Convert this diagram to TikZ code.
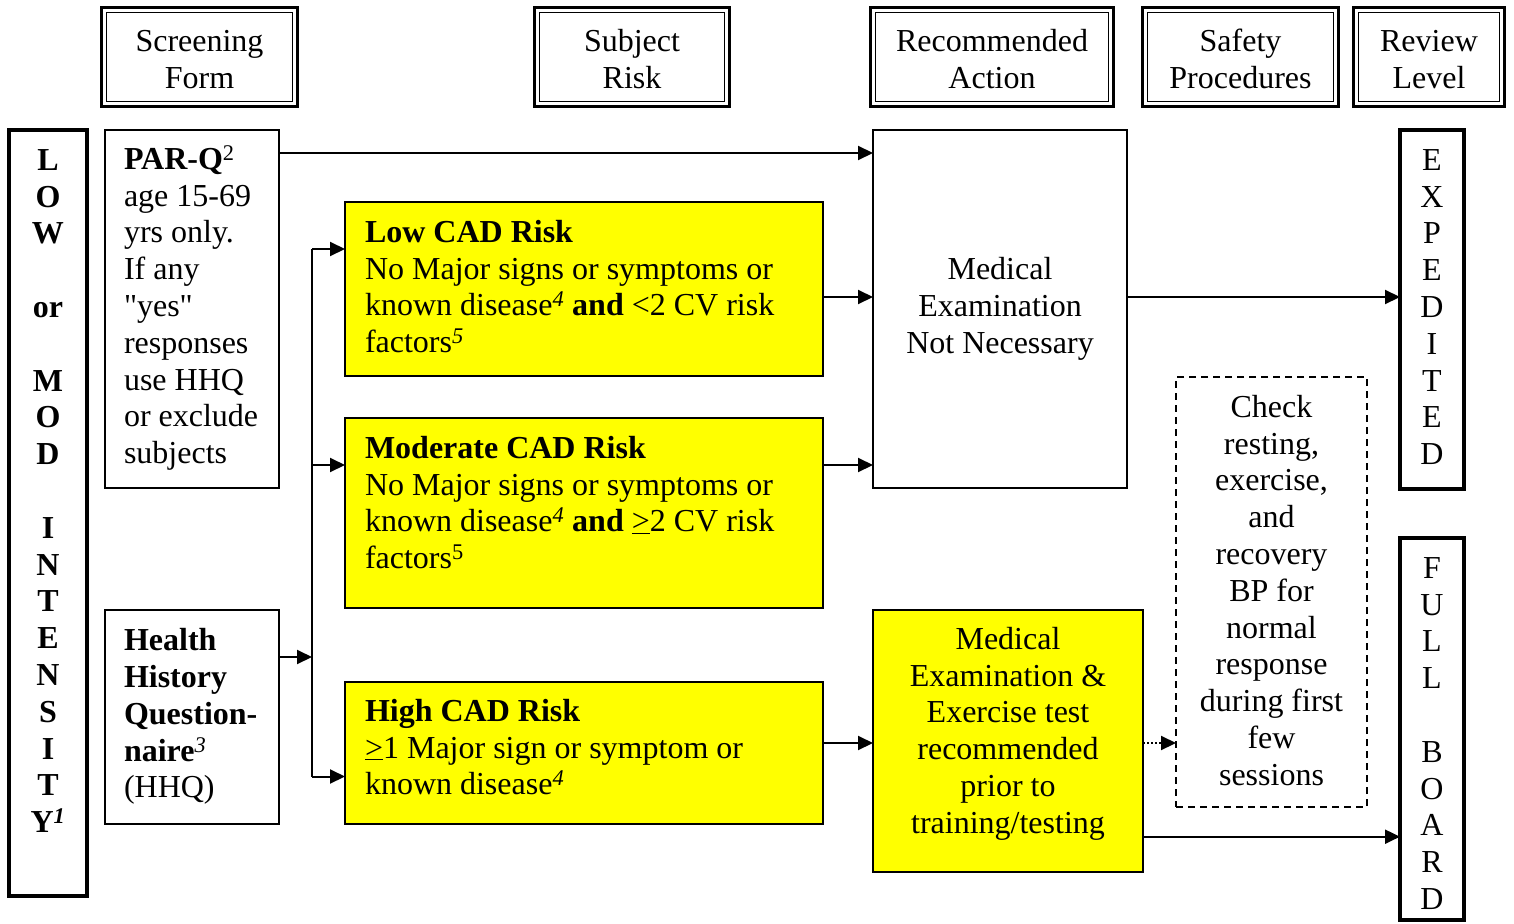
\documentclass[tikz,border=0pt]{standalone}
\usepackage{fontspec}
\setmainfont{Liberation Serif}
\newfontfamily\qfont{Liberation Serif}[Ligatures=TeXOff]
\usetikzlibrary{arrows.meta,calc}
\newcommand{\bt}[4]{\parbox[c][#1pt][t]{#2pt}{\vspace*{#3pt}#4}}
\newcommand{\sui}[1]{\textsuperscript{\textit{#1}}}
\newcommand{\geu}{\underline{>}}
\definecolor{ylw}{RGB}{255,255,0}
\begin{document}
\begin{tikzpicture}[x=1pt,y=-1pt,
  every node/.style={inner sep=0pt, outer sep=0pt, anchor=north west},
  font=\fontsize{32}{36.8}\selectfont,
  hdr/.style={draw, line width=3.2pt, minimum height=99,
    path picture={\draw[line width=1.2pt] ([shift={(5,5)}]path picture bounding box.north west) rectangle ([shift={(-5,-5)}]path picture bounding box.south east);}},
  thinbox/.style={draw, line width=2pt},
  ybox/.style={draw, line width=2.5pt, fill=ylw},
  heavybox/.style={draw, line width=4pt},
  dbox/.style={draw, line width=1.6pt, dash pattern=on 7pt off 5pt, align=center},
  conn/.style={line width=2pt, -{Triangle[length=15pt,width=14pt]}}
]
\useasboundingbox (0,0) rectangle (1514,923);
\fill[white] (0,0) rectangle (1514,923);

% headers
\node[hdr, minimum width=195.5] (hscr) at (101.75,7.5) {\bt{99}{190}{18.5}{\centering\strut Screening\\Form}};
\node[hdr, minimum width=194.5] (hsub) at (534.75,7.5) {\bt{99}{190}{18.5}{\centering\strut Subject\\Risk}};
\node[hdr, minimum width=242.5] (hrec) at (870.75,7.5) {\bt{99}{238}{18.5}{\centering\strut Recommended\\Action}};
\node[hdr, minimum width=195.5] (hsaf) at (1142.75,7.5) {\bt{99}{190}{18.5}{\centering\strut Safety\\Procedures}};
\node[hdr, minimum width=150.5] (hrev) at (1353.75,7.5) {\bt{99}{146}{18.5}{\centering\strut Review\\Level}};

% left intensity column
\node[heavybox, minimum width=78, minimum height=766] (inten) at (9,130)
  {\bt{766}{78}{14.5}{\centering\bfseries\strut L\\O\\W\\[36.8pt]or\\[36.8pt]M\\O\\D\\[36.8pt]I\\N\\T\\E\\N\\S\\I\\T\\Y\sui{1}}};

% screening forms
\node[thinbox, minimum width=174, minimum height=358] (parq) at (105,130)
  {\bt{358}{136}{13.5}{\raggedright\strut\textbf{PAR-Q}\textsuperscript{2}\\age 15-69\\yrs only.\\If any\\{\qfont"yes"}\\responses\\use HHQ\\or exclude\\subjects}};
\node[thinbox, minimum width=174, minimum height=214] (hhq) at (105,610)
  {\bt{214}{136}{15}{\raggedright\strut\textbf{Health}\\\textbf{History}\\\textbf{Question-}\\\textbf{naire}\sui{3}\\(HHQ)}};

% risk boxes
\node[ybox, minimum width=478, minimum height=174] (low) at (345,202)
  {\bt{174}{438}{14.5}{\raggedright\strut\textbf{Low CAD Risk}\\No Major signs or symptoms or\\known disease\sui{4} \textbf{and} <2 CV risk\\factors\sui{5}}};
\node[ybox, minimum width=478, minimum height=190] (mod) at (345,418)
  {\bt{190}{438}{14.5}{\raggedright\strut\textbf{Moderate CAD Risk}\\No Major signs or symptoms or\\known disease\sui{4} \textbf{and} \geu2 CV risk\\factors\textsuperscript{5}}};
\node[ybox, minimum width=478, minimum height=142] (high) at (345,682)
  {\bt{142}{438}{13.5}{\raggedright\strut\textbf{High CAD Risk}\\\geu1 Major sign or symptom or\\known disease\sui{4}}};

% actions
\node[thinbox, minimum width=254, minimum height=358] (mednn) at (873,130)
  {\bt{358}{250}{124}{\centering\strut Medical\\Examination\\Not Necessary}};
\node[ybox, minimum width=270, minimum height=262] (medex) at (873,610)
  {\bt{262}{250}{13.5}{\centering\strut Medical\\Examination \&\\Exercise test\\recommended\\prior to\\training/testing}};

% safety
\node[dbox, minimum width=191, minimum height=430] (chk) at (1176,377)
  {\bt{430}{185}{14.5}{\centering\strut Check\\resting,\\exercise,\\and\\recovery\\BP for\\normal\\response\\during first\\few\\sessions}};

% review levels
\node[heavybox, minimum width=64, minimum height=359] (exp) at (1400,130)
  {\bt{359}{64}{14.5}{\centering\strut E\\X\\P\\E\\D\\I\\T\\E\\D}};
\node[heavybox, minimum width=64, minimum height=382] (full) at (1400,538)
  {\bt{382}{64}{14.5}{\centering\strut F\\U\\L\\L\\[36.8pt]B\\O\\A\\R\\D}};

% connector levels
\coordinate (yP) at (0,153);
\coordinate (yL) at (0,297);
\coordinate (yM) at (0,465);
\coordinate (yH) at (0,743);
\coordinate (yF) at (0,836.7);
\coordinate (busTop) at (312,249);
\coordinate (busIn) at (312,657);
\coordinate (busMid) at (312,465);
\coordinate (busBot) at (312,776.5);

\draw[conn] (parq.east |- yP) -- (mednn.west |- yP);
\draw[conn] (hhq.east |- busIn) -- (busIn);
\draw[line width=2pt] (busTop) -- (busBot);
\draw[conn] (busTop) -- (busTop -| low.west);
\draw[conn] (busMid) -- (busMid -| mod.west);
\draw[conn] (busBot) -- (busBot -| high.west);
\draw[conn] (low.east |- yL) -- (mednn.west |- yL);
\draw[conn] (mod.east |- yM) -- (mednn.west |- yM);
\draw[conn] (high.east |- yH) -- (medex.west |- yH);
\draw[conn] (mednn.east |- yL) -- (exp.west |- yL);
\draw[conn] (medex.east |- yF) -- (full.west |- yF);
\draw[conn, dotted] (medex.east |- yH) -- (chk.west |- yH);
\end{tikzpicture}
\end{document}
